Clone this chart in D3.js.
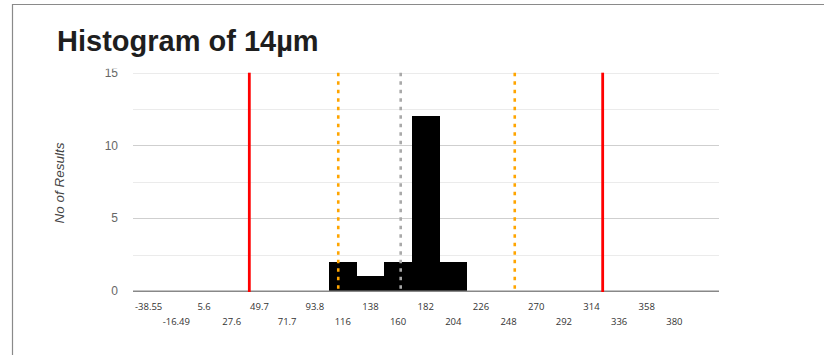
<!DOCTYPE html>
<html>
<head>
<meta charset="utf-8">
<script src="https://cdn.jsdelivr.net/npm/d3@7"></script>
<style>
  body { margin: 0; background: #fff; }
  svg { display: block; }
</style>
</head>
<body>
<main></main>
<script>
// bin labels (bin centres) as printed under the axis
let binLabels = ["-38.55", "-16.49", "5.6", "27.6", "49.7", "71.7", "93.8", "116", "138", "160",
  "182", "204", "226", "248", "270", "292", "314", "336", "358", "380"];
let binCounts = [0, 0, 0, 0, 0, 0, 0, 2, 1, 2, 12, 2, 0, 0, 0, 0, 0, 0, 0, 0];
let binWidth = 22.05;

// reference lines, in axis units
let limitLines = [41.6, 322.9];   // red
let warningLines = [112.4, 252.9]; // orange dotted
let meanLines = [162.1];           // grey dotted

let yTicks = [0, 5, 10, 15];
let yGrid = [2.5, 5, 7.5, 10, 12.5, 15];

let width = 824;
let height = 355;

let svg = d3.select('main')
  .append('svg')
  .attr('width', width)
  .attr('height', height);

// frame
svg.append('path')
  .attr('d', 'M12.5,355 V4.5 H824')
  .attr('fill', 'none')
  .attr('stroke', '#8a8a8a')
  .attr('stroke-width', 1.2);

svg.append('text')
  .attr('x', 57)
  .attr('y', 51)
  .style('font-family', '"Liberation Sans", Arial, sans-serif')
  .style('font-weight', 'bold')
  .style('font-size', '29px')
  .attr('fill', '#1e1e1e')
  .text('Histogram of 14µm');

let x = d3.scaleLinear()
  .domain([-51, 415.5])
  .range([133, 719]);

let y = d3.scaleLinear()
  .domain([0, 15])
  .range([291, 72.7]);

// grid
svg.append('g').selectAll('line')
  .data(yGrid)
  .enter().append('line')
  .attr('x1', x.range()[0])
  .attr('x2', x.range()[1])
  .attr('y1', d => Math.round(y(d)) + 0.5)
  .attr('y2', d => Math.round(y(d)) + 0.5)
  .attr('stroke', d => d % 5 === 0 && d < 15 ? '#cfcfcf' : '#ebebeb')
  .attr('stroke-width', 1.2);

// y tick labels (top one is clipped in the original)
svg.append('clipPath')
  .attr('id', 'yclip')
  .append('rect')
  .attr('x', 0).attr('y', 68.8).attr('width', 130).attr('height', 260);

svg.append('g')
  .attr('clip-path', 'url(#yclip)')
  .selectAll('text')
  .data(yTicks)
  .enter().append('text')
  .attr('x', 118)
  .attr('y', d => y(d))
  .attr('dy', '0.35em')
  .attr('text-anchor', 'end')
  .style('font-family', '"Liberation Sans", Arial, sans-serif')
  .style('font-size', '12px')
  .attr('fill', '#666')
  .text(d => d);

svg.append('text')
  .attr('transform', 'translate(64,183) rotate(-90)')
  .attr('text-anchor', 'middle')
  .style('font-family', '"Liberation Sans", Arial, sans-serif')
  .style('font-style', 'italic')
  .style('font-size', '13.5px')
  .attr('fill', '#444')
  .text('No of Results');

// bars
let bins = binLabels.map((l, i) => ({ centre: +l, count: binCounts[i] }));
let left = d => Math.round(x(d.centre - binWidth / 2));
let right = d => Math.round(x(d.centre + binWidth / 2));

svg.append('g').selectAll('rect')
  .data(bins.filter(d => d.count > 0))
  .enter().append('rect')
  .attr('x', left)
  .attr('width', d => right(d) - left(d))
  .attr('y', d => Math.round(y(d.count)))
  .attr('height', d => Math.round(y(0)) - Math.round(y(d.count)))
  .attr('fill', '#000');

// x axis line
svg.append('line')
  .attr('x1', x.range()[0])
  .attr('x2', x.range()[1])
  .attr('y1', y(0) + 0.3)
  .attr('y2', y(0) + 0.3)
  .attr('stroke', '#888')
  .attr('stroke-width', 1.6);

// reference lines
function refLines(values, colour, w, dash) {
  svg.append('g').selectAll('line')
    .data(values)
    .enter().append('line')
    .attr('x1', d => x(d))
    .attr('x2', d => x(d))
    .attr('y1', y(15))
    .attr('y2', y(0) + 1)
    .attr('stroke', colour)
    .attr('stroke-width', w)
    .attr('stroke-dasharray', dash);
}
refLines(warningLines, '#ffa500', 2.6, '3.5,5');
refLines(meanLines, '#a9a9a9', 2.6, '3.5,5');
refLines(limitLines, '#ff0000', 2.8, null);

// x labels, staggered in two rows
svg.append('g').selectAll('text')
  .data(binLabels)
  .enter().append('text')
  .attr('x', d => x(+d))
  .attr('y', (d, i) => i % 2 === 0 ? 310 : 325)
  .attr('text-anchor', 'middle')
  .style('font-family', '"Open Sans", sans-serif')
  .style('font-size', '9.5px')
  .attr('fill', '#333')
  .text(d => d);
</script>
</body>
</html>
